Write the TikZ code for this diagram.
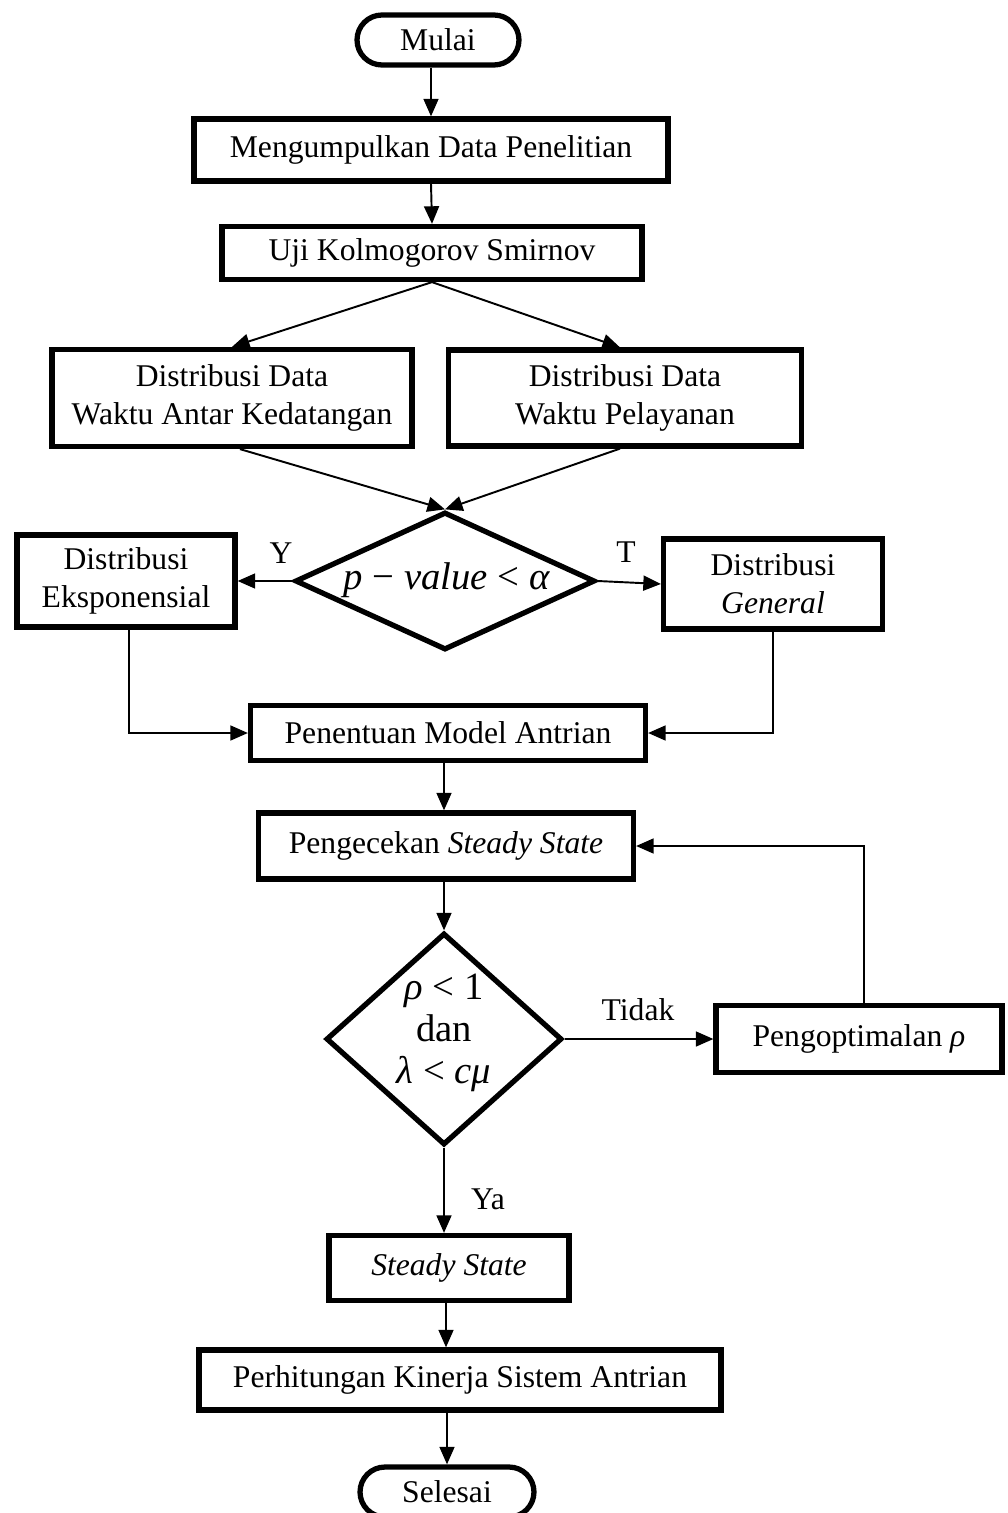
\documentclass[tikz,border=0pt]{standalone}
\usepackage{fontspec}
\setmainfont{Liberation Serif}
\usetikzlibrary{shapes.geometric,arrows.meta,calc}

\begin{document}
\begin{tikzpicture}[x=0.02cm,y=-0.02cm,
  txt/.style={font=\fontsize{18}{21.5}\selectfont},
  mathtxt/.style={font=\fontsize{22}{24.5}\selectfont,align=center},
  box/.style={txt,draw,line width=3pt,inner sep=0pt,align=center},
  terminal/.style={box,rounded corners=0.5cm},
  decision/.style={draw,diamond,line width=3pt,inner sep=0pt},
  flow/.style={line width=1.1pt,-{Triangle[length=10pt,width=8.5pt]}}]

\clip (0,0) rectangle (1007,1513);
\fill[white] (0,0) rectangle (1007,1513);

% process blocks
\node[terminal,minimum width=3.24cm,minimum height=1.0cm] (mulai) at (438,40) {Mulai};
\node[box,minimum width=9.48cm,minimum height=1.24cm] (kumpul) at (431,150) {Mengumpulkan Data Penelitian};
\node[box,minimum width=8.4cm,minimum height=1.06cm] (uji) at (432,253) {Uji Kolmogorov Smirnov};
\node[box,minimum width=7.2cm,minimum height=1.94cm] (dwa) at (232,398) {Distribusi Data\\Waktu Antar Kedatangan};
\node[box,minimum width=7.06cm,minimum height=1.92cm] (dwp) at (625,398) {Distribusi Data\\Waktu Pelayanan};

% first test
\node[decision,minimum width=6.0cm,minimum height=2.76cm] (pval) at (445,581) {};
\node[mathtxt] (pvaltext) at (447,580) {\textit{p} − \textit{value} < \textit{α}};

\node[box,minimum width=4.36cm,minimum height=1.84cm] (eks) at (126,581) {Distribusi\\Eksponensial};
\node[box,minimum width=4.38cm,minimum height=1.8cm] (gen) at (773,584) {Distribusi\\\textit{General}};
\node[box,minimum width=7.9cm,minimum height=1.1cm] (model) at (448,733) {Penentuan Model Antrian};
\node[box,minimum width=7.5cm,minimum height=1.32cm] (cek) at (446,846) {Pengecekan \textit{Steady State}};

% steady-state condition
\node[decision,minimum width=4.72cm,minimum height=4.24cm] (rho) at (444,1039) {};
\node[mathtxt,font=\fontsize{22}{24}\selectfont] (rhotext) at (444,1033) {\textit{ρ} < 1\\dan\\\textit{λ} < \textit{cμ}};

\node[box,minimum width=5.72cm,minimum height=1.34cm] (opt) at (859,1039) {Pengoptimalan \textit{ρ}};
\node[box,minimum width=4.8cm,minimum height=1.3cm] (steady) at (449,1268) {\textit{Steady State}};
\node[box,minimum width=10.44cm,minimum height=1.2cm] (hitung) at (460,1380) {Perhitungan Kinerja Sistem Antrian};
\node[terminal,minimum width=3.48cm,minimum height=1.0cm] (selesai) at (447,1492) {Selesai};

% branch labels
\node[txt] (ly) at (281,553) {Y};
\node[txt] (lt) at (626,552) {T};
\node[txt] (ltidak) at (638,1010) {Tidak};
\node[txt] (lya) at (488,1199) {Ya};

% connectors
\draw[flow] (kumpul.north |- mulai.south) -- (kumpul.north);
\draw[flow] (kumpul.south) -- (uji.north);
\draw[flow] (uji.south) -- (dwa.north);
\draw[flow] (uji.south) -- ($(dwp.north)+(-5,0)$);
\draw[flow] ($(dwa.south)+(8,0)$) -- (pval.north);
\draw[flow] ($(dwp.south)+(-5,0)$) -- (pval.north);
\draw[flow] (pval.west) -- (eks.east);
\draw[flow] (pval.east) -- (gen.west);
\draw[flow] ($(eks.south)+(3,0)$) |- (model.west);
\draw[flow] (gen.south) |- (model.east);
\draw[flow] ($(model.south)+(-4,0)$) -- ($(cek.north)+(-2,0)$);
\draw[flow] (cek.south -| rho.north) -- (rho.north);
\draw[flow] (rho.east) -- (opt.west);
\draw[flow] ($(opt.north)+(5,0)$) |- (cek.east);
\draw[flow] (rho.south) -- (rho.south |- steady.north);
\draw[flow] ($(steady.south)+(-3,0)$) -- ($(steady.south |- hitung.north)+(-3,0)$);
\draw[flow] (selesai.north |- hitung.south) -- (selesai.north);

\end{tikzpicture}
\end{document}
